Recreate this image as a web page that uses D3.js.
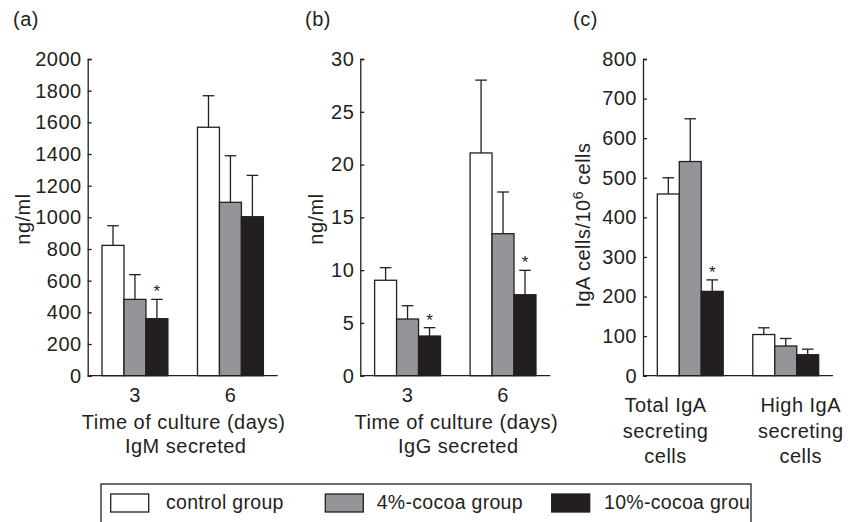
<!DOCTYPE html>
<html><head><meta charset="utf-8">
<script src="https://cdn.jsdelivr.net/npm/d3@7/dist/d3.min.js"></script>
<style>
body{margin:0;background:#fff}
svg{display:block}
text{font-family:"Liberation Sans",Arial,Helvetica,sans-serif;fill:#231f20;letter-spacing:0.5px}
</style></head><body>
<svg id="chart" width="855" height="522"></svg>
<script>
// ---------- DATA ----------
const seriesNames = ["control group", "4%-cocoa group", "10%-cocoa group"];
const timeCategories = ["3", "6"];
const igaCategories = ["Total IgA secreting cells", "High IgA secreting cells"];
const igaCategoryLines = [["Total IgA", "secreting", "cells"], ["High IgA", "secreting", "cells"]];

// (a) IgM secreted, ng/ml
const igmControl = [823, 1569];
const igm4Cocoa = [482, 1095];
const igm10Cocoa = [360, 1004];
const igmControlErr = [124, 199];
const igm4CocoaErr = [156, 294];
const igm10CocoaErr = [122, 261];
const igmSignif10 = [true, false];
const igmTicks = [0, 200, 400, 600, 800, 1000, 1200, 1400, 1600, 1800, 2000];

// (b) IgG secreted, ng/ml
const iggControl = [9.04, 21.1];
const igg4Cocoa = [5.37, 13.45];
const igg10Cocoa = [3.76, 7.67];
const iggControlErr = [1.19, 6.9];
const igg4CocoaErr = [1.26, 3.95];
const igg10CocoaErr = [0.79, 2.31];
const iggSignif10 = [true, true];
const iggTicks = [0, 5, 10, 15, 20, 25, 30];

// (c) IgA cells / 10^6 cells
const igaControl = [459, 104];
const iga4Cocoa = [541, 75];
const iga10Cocoa = [213, 53];
const igaControlErr = [41, 17];
const iga4CocoaErr = [108, 19];
const iga10CocoaErr = [29, 14];
const igaSignif10 = [true, false];
const igaTicks = [0, 100, 200, 300, 400, 500, 600, 700, 800];

// ---------- STYLE ----------
const ink = "#231f20";
const fills = ["#ffffff", "#939598", "#231f20"];
const fs = "20px";
const svg = d3.select("#chart");

function panel(o) {
  const g = svg.append("g");
  const y = d3.scaleLinear().domain([0, o.ticks[o.ticks.length - 1]]).range([375.7, 59]);
  const xg = d3.scaleBand().domain(o.categories).range([o.left, o.left + 190])
    .paddingInner(0.31).paddingOuter(0.15);
  const xs = d3.scaleBand().domain(seriesNames).range([0, xg.bandwidth()]).padding(0);

  const rows = [];
  o.categories.forEach((c, i) => {
    seriesNames.forEach((s, j) => {
      rows.push({c, s, j, v: o.values[j][i], e: o.errs[j][i], sig: j === 2 && o.sig[i]});
    });
  });

  // error bars (upper only)
  const eb = g.append("g").attr("stroke", ink).attr("stroke-width", 1.3);
  rows.forEach(d => {
    const cx = xg(d.c) + xs(d.s) + xs.bandwidth() / 2;
    eb.append("line").attr("x1", cx).attr("x2", cx).attr("y1", y(d.v)).attr("y2", y(d.v + d.e));
    eb.append("line").attr("x1", cx - 5.8).attr("x2", cx + 5.8).attr("y1", y(d.v + d.e)).attr("y2", y(d.v + d.e));
  });

  // bars
  g.append("g").selectAll("rect").data(rows).join("rect")
    .attr("x", d => xg(d.c) + xs(d.s))
    .attr("width", xs.bandwidth())
    .attr("y", d => y(d.v))
    .attr("height", d => y(0) - y(d.v))
    .attr("fill", d => fills[d.j])
    .attr("stroke", ink).attr("stroke-width", 1.3);

  // significance stars
  g.append("g").selectAll("text").data(rows.filter(d => d.sig)).join("text")
    .attr("x", d => xg(d.c) + xs(d.s) + xs.bandwidth() / 2)
    .attr("y", d => y(d.v + d.e) - 2)
    .attr("text-anchor", "middle").style("font-size", "17px").style("letter-spacing", "0px")
    .text("*");

  // y axis
  const ax = g.append("g").attr("transform", `translate(${o.left},0)`)
    .call(d3.axisLeft(y).tickValues(o.ticks).tickFormat(d3.format("d"))
      .tickSize(-4).tickSizeOuter(-4).tickPadding(6));
  ax.attr("font-family", null).attr("font-size", null);
  ax.selectAll("path,line").attr("stroke", ink).attr("stroke-width", 1.3);
  ax.selectAll("text").style("font-size", fs).attr("fill", ink);

  // x axis baseline
  g.append("line").attr("x1", o.left).attr("x2", o.left + 190)
    .attr("y1", y(0)).attr("y2", y(0)).attr("stroke", ink).attr("stroke-width", 1.3);

  // panel letter
  g.append("text").attr("x", o.letterX).attr("y", 26).style("font-size", fs).text(o.letter);

  // y title
  const yt = g.append("text")
    .attr("transform", `translate(${o.yTitleX},${o.yTitleY}) rotate(-90)`)
    .attr("text-anchor", "middle").style("font-size", fs);
  o.yTitle(yt);

  return {g, xg, y};
}

// (a)
const pa = panel({
  left: 87.7, categories: timeCategories, ticks: igmTicks,
  values: [igmControl, igm4Cocoa, igm10Cocoa], errs: [igmControlErr, igm4CocoaErr, igm10CocoaErr],
  sig: igmSignif10, letter: "(a)", letterX: 13, yTitleX: 30, yTitleY: 219,
  yTitle: t => t.text("ng/ml")
});
// (b)
const pb = panel({
  left: 360.3, categories: timeCategories, ticks: iggTicks,
  values: [iggControl, igg4Cocoa, igg10Cocoa], errs: [iggControlErr, igg4CocoaErr, igg10CocoaErr],
  sig: iggSignif10, letter: "(b)", letterX: 305, yTitleX: 323, yTitleY: 219,
  yTitle: t => t.text("ng/ml")
});
// (c)
const pc = panel({
  left: 643, categories: igaCategories, ticks: igaTicks,
  values: [igaControl, iga4Cocoa, iga10Cocoa], errs: [igaControlErr, iga4CocoaErr, iga10CocoaErr],
  sig: igaSignif10, letter: "(c)", letterX: 573, yTitleX: 590, yTitleY: 225,
  yTitle: t => {
    t.append("tspan").text("IgA cells/10");
    t.append("tspan").attr("dy", -7).style("font-size", "14px").text("6");
    t.append("tspan").attr("dy", 7).text(" cells");
  }
});

// x labels for time panels
[[pa, "IgM secreted", 87.7], [pb, "IgG secreted", 360.3]].forEach(([p, sub, left]) => {
  p.g.selectAll(".xt").data(timeCategories).join("text")
    .attr("x", d => p.xg(d) + p.xg.bandwidth() / 2).attr("y", 402)
    .attr("text-anchor", "middle").style("font-size", fs).text(d => d);
  p.g.append("text").attr("x", left + 96).attr("y", 429).attr("text-anchor", "middle")
    .style("font-size", fs).text("Time of culture (days)");
  p.g.append("text").attr("x", left + 98).attr("y", 453).attr("text-anchor", "middle")
    .style("font-size", fs).text(sub);
});

// x labels for IgA panel
const igaLabelShift = [-24.7, 15];
igaCategories.forEach((c, i) => {
  const t = pc.g.append("text").attr("text-anchor", "middle").style("font-size", fs);
  igaCategoryLines[i].forEach((line, k) => {
    t.append("tspan").attr("x", pc.xg(c) + pc.xg.bandwidth() / 2 + igaLabelShift[i])
      .attr("y", 412 + k * 25.5).text(line);
  });
});

// legend
svg.append("defs").append("clipPath").attr("id", "legclip")
  .append("rect").attr("x", 101).attr("y", 484).attr("width", 650).attr("height", 60);
const lg = svg.append("g");
const lgc = lg.append("g").attr("clip-path", "url(#legclip)");
const legendX = [110.7, 325.3, 551.7];
const legendTextGap = [55.3, 51.4, 52.3];
seriesNames.forEach((s, j) => {
  lgc.append("rect").attr("x", legendX[j]).attr("y", 494).attr("width", 38).attr("height", 18)
    .attr("fill", fills[j]).attr("stroke", ink).attr("stroke-width", 1.3);
  lgc.append("text").attr("x", legendX[j] + legendTextGap[j]).attr("y", 508.5)
    .style("font-size", "19.5px").style("letter-spacing", "0.3px").text(s);
});
lg.append("rect").attr("x", 101).attr("y", 484).attr("width", 650).attr("height", 60)
  .attr("fill", "none").attr("stroke", ink).attr("stroke-width", 1.3);
</script>
</body></html>
